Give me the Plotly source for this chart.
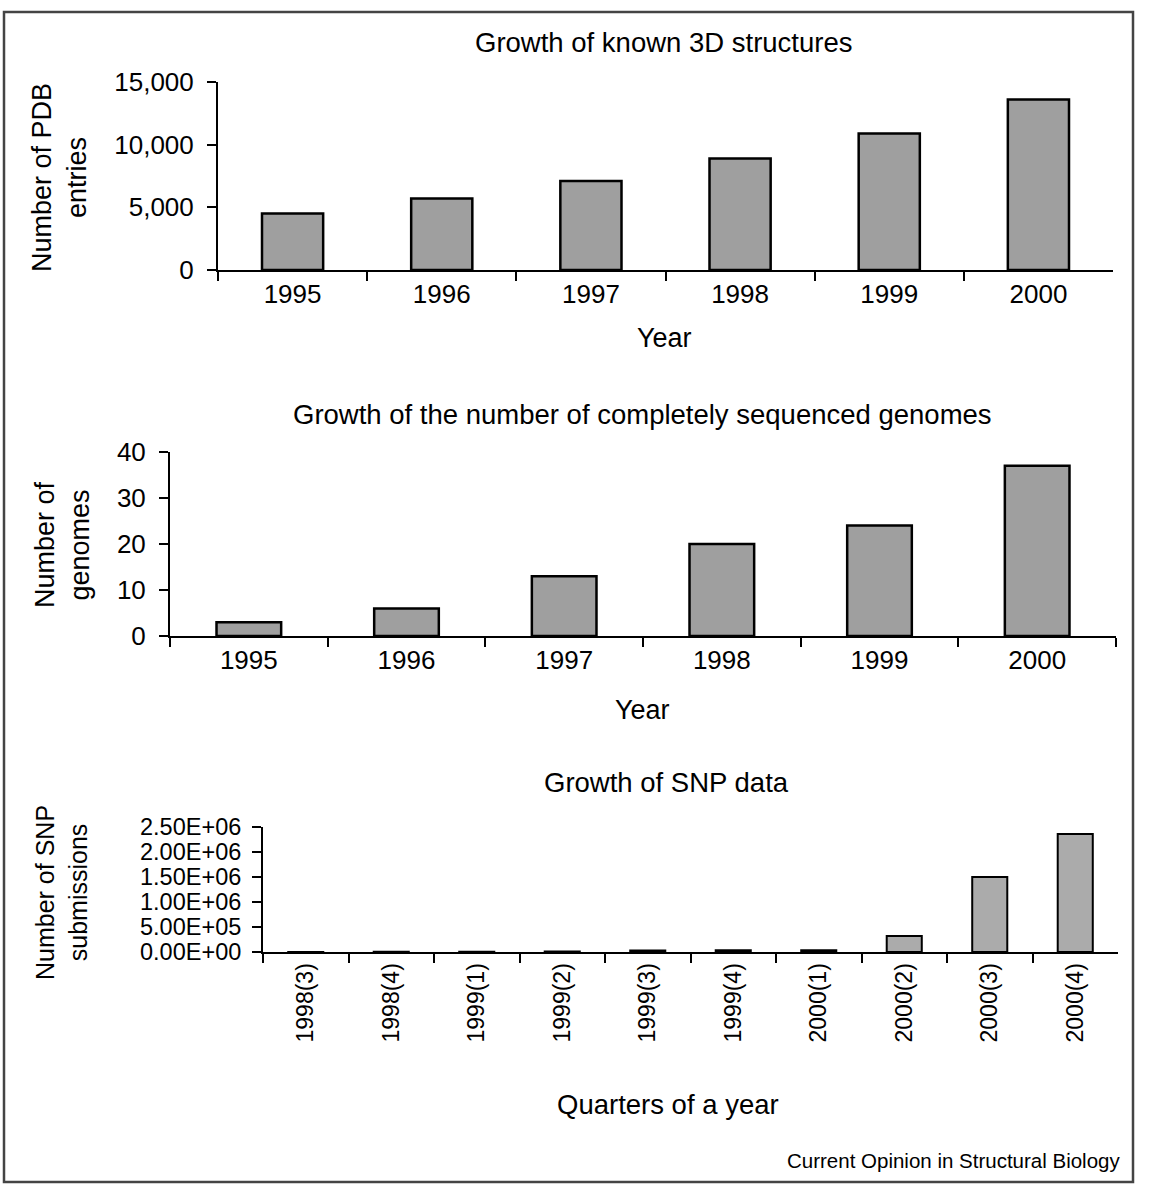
import plotly.graph_objects as go

W, H = 1150, 1199

# ---- data ----
years = ["1995", "1996", "1997", "1998", "1999", "2000"]
pdb_entries = [4500, 5700, 7100, 8900, 10900, 13600]
genomes = [3, 6, 13, 20, 24, 37]
quarters = ["1998(3)", "1998(4)", "1999(1)", "1999(2)", "1999(3)",
            "1999(4)", "2000(1)", "2000(2)", "2000(3)", "2000(4)"]
snp_submissions = [1000, 2500, 4000, 12000, 30000, 35000, 35000, 320000, 1500000, 2360000]
snp_tickvals = [0, 500000, 1000000, 1500000, 2000000, 2500000]
snp_ticktext = ["0.00E+00", "5.00E+05", "1.00E+06", "1.50E+06", "2.00E+06", "2.50E+06"]

FONT = "Liberation Sans, Arial, sans-serif"


def fx(px):
    return px / W


def fy(py):
    return 1 - py / H


fig = go.Figure()

bar_style = dict(marker=dict(color="#9f9f9f", line=dict(color="black", width=2.5)),
                 width=0.41, showlegend=False, hoverinfo="x+y")

fig.add_trace(go.Bar(x=years, y=pdb_entries, xaxis="x", yaxis="y", **bar_style))
fig.add_trace(go.Bar(x=years, y=genomes, xaxis="x2", yaxis="y2", **bar_style))
bar_style3 = dict(bar_style)
bar_style3["marker"] = dict(color="#ababab", line=dict(color="black", width=2))
fig.add_trace(go.Bar(x=quarters, y=snp_submissions, xaxis="x3", yaxis="y3", **bar_style3))

xcommon = dict(type="category", showline=True, linecolor="black", linewidth=2,
               ticks="outside", tickson="boundaries", ticklen=9, tickwidth=2,
               tickcolor="black", showgrid=False, zeroline=False, automargin=False,
               tickfont=dict(family=FONT, size=26, color="black"))
ycommon = dict(showline=True, linecolor="black", linewidth=2, ticks="outside",
               ticklen=9, tickwidth=2, tickcolor="black", showgrid=False,
               zeroline=False, automargin=False,
               tickfont=dict(family=FONT, size=26, color="black"))

fig.update_layout(
    template="none",
    width=W, height=H,
    margin=dict(l=0, r=0, t=0, b=0, autoexpand=False),
    paper_bgcolor="white", plot_bgcolor="white",
    font=dict(family=FONT, color="black"),
    xaxis=dict(domain=[fx(218), fx(1113)], anchor="y", **xcommon),
    yaxis=dict(domain=[fy(270), fy(82)], anchor="x", range=[0, 15000],
               tickvals=[0, 5000, 10000, 15000], tickformat=",d",
               ticklabelstandoff=8, **ycommon),
    xaxis2=dict(domain=[fx(170), fx(1116)], anchor="y2", **xcommon),
    yaxis2=dict(domain=[fy(636), fy(452)], anchor="x2", range=[0, 40],
                tickvals=[0, 10, 20, 30, 40], ticklabelstandoff=8, **ycommon),
    xaxis3=dict(domain=[fx(263), fx(1118)], anchor="y3", tickangle=-90,
                **{**xcommon, "tickfont": dict(family=FONT, size=23, color="black")}),
    yaxis3=dict(domain=[fy(952), fy(827)], anchor="x3", range=[0, 2500000],
                tickvals=snp_tickvals, ticktext=snp_ticktext, ticklabelstandoff=6,
                **{**ycommon, "tickfont": dict(family=FONT, size=23.5, color="black")}),
)

ann = []


def text(x, y, s, size=26, angle=0, xanchor="center"):
    ann.append(dict(x=fx(x), y=fy(y), xref="paper", yref="paper", text=s,
                    showarrow=False, textangle=angle, xanchor=xanchor,
                    yanchor="middle", font=dict(family=FONT, size=size, color="black")))


# chart titles
text(664, 42, "Growth of known 3D structures", 27.5)
text(642, 414, "Growth of the number of completely sequenced genomes", 27.5)
text(666, 782, "Growth of SNP data", 27.5)
# x titles
text(664, 338, "Year", 27)
text(642, 710, "Year", 27)
text(668, 1104, "Quarters of a year", 27.5)
# y titles
text(60, 178, "Number of PDB<br>entries", 27, -90)
text(62, 545, "Number of<br>genomes", 27, -90)
text(61, 893, "Number of SNP<br>submissions", 25, -90)
# footer
text(1122, 1160, "Current Opinion in Structural Biology", 20.5, 0, "right")

fig.update_layout(annotations=ann)

fig.add_shape(type="rect", xref="paper", yref="paper",
              x0=fx(4), x1=fx(1133), y0=fy(1182), y1=fy(12),
              line=dict(color="#444444", width=2.5), fillcolor="rgba(0,0,0,0)")

fig.write_html("out.html", config={"displayModeBar": False},
               post_script="document.body.style.margin='0';document.body.style.padding='0';")
